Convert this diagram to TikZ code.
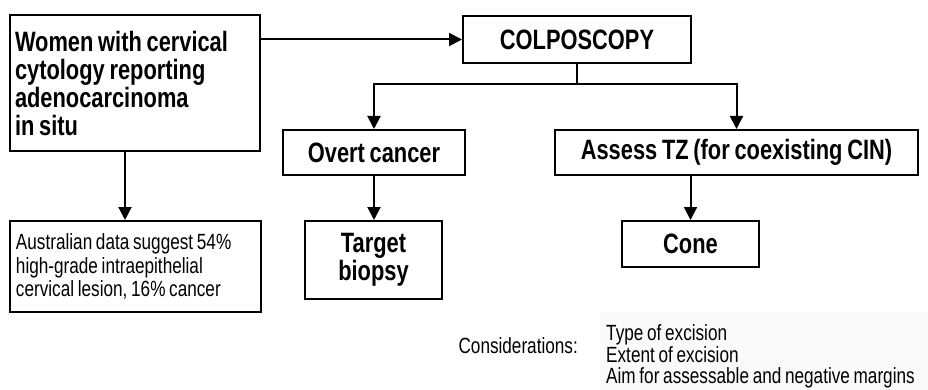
\documentclass[tikz,border=0pt]{standalone}
\usepackage{fontspec}
\setmainfont{Liberation Sans}[FakeStretch=0.78,WordSpace=0.78]
\usetikzlibrary{arrows.meta}

\begin{document}
\begin{tikzpicture}[x=1pt,y=-1pt,
        box/.style={draw,line width=2pt,inner sep=0pt,align=center,
            font=\bfseries\fontsize{28}{28}\selectfont},
        note/.style={inner sep=0pt,align=flush left,font=\fontsize{22}{20.5}\selectfont},
        arr/.style={line width=2pt,-{Triangle[length=13pt,width=13pt]}}]
        \useasboundingbox (0,0) rectangle (928,390);
        \fill[black!2] (600,313) rectangle (928,390);
        \node[box,minimum width=250pt,minimum height=136pt,text width=240pt,inner xsep=5pt,align=flush left] (women) at (135,83) {Women with cervical\\cytology reporting\\adenocarcinoma\\in situ};
        \node[box,minimum width=228pt,minimum height=47pt] (colpo) at (577,39.5) {COLPOSCOPY};
        \node[box,minimum width=182pt,minimum height=45pt] (overt) at (374,152.5) {Overt cancer};
        \node[box,minimum width=363pt,minimum height=45pt] (assess) at (736.5,152.5) {Assess TZ (for coexisting CIN)};
        \node[box,minimum width=137pt,minimum height=78pt] (target) at (373.5,260) {Target\\biopsy};
        \node[box,minimum width=137pt,minimum height=46pt] (cone) at (690.5,244) {Cone};
        \node[box,font=\fontsize{22}{23.5}\selectfont,minimum width=251pt,minimum height=91pt,text width=239pt,inner xsep=6pt,align=flush left] (austr) at (135.5,266.5) {Australian data suggest 54\%\\high-grade intraepithelial\\cervical lesion, 16\% cancer};
        \node[note,anchor=base east] (cons) at (578,353) {Considerations:};
        \node[note,anchor=base west] (list) at (606,383) {Type of excision\\Extent of excision\\Aim for assessable and negative margins};
        \coordinate (split) at (577,84);
        \draw[arr] (colpo.west -| women.east) -- (colpo.west);
        \draw[line width=2pt] (colpo.south) -- (split);
        \draw[arr] (split) -| (overt.north);
        \draw[arr] (split) -| (assess.north);
        \draw[arr] ([xshift=-10pt]women.south) -- ([xshift=-10pt]women.south |- austr.north);
        \draw[arr] (overt.south) -- (overt.south |- target.north);
        \draw[arr] (cone.north |- assess.south) -- (cone.north);
\end{tikzpicture}
\end{document}
